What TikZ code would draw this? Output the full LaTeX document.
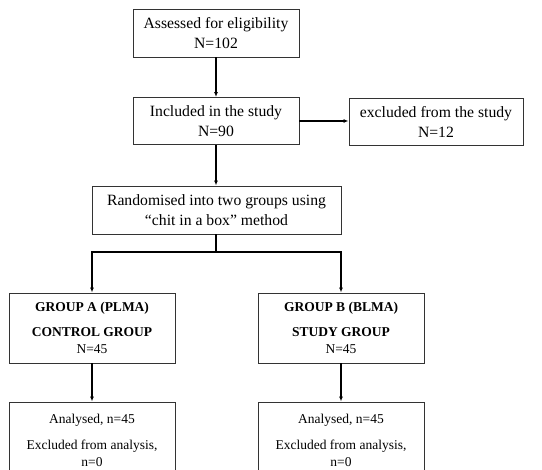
\documentclass[tikz,border=0pt]{standalone}
\usepackage{fontspec}
\setmainfont{Liberation Serif}
\usetikzlibrary{arrows.meta}
\usetikzlibrary{positioning}

\tikzset{
  box/.style={draw=black!80, line width=0.9pt, align=center, inner sep=0pt},
  bigbox/.style={box, font=\fontsize{15.7}{20}\selectfont},
  smallbox/.style={box, font=\fontsize{13.5}{17}\selectfont},
  arr/.style={line width=1.15pt, -{Latex[length=5pt,width=4pt]}}
}

\begin{document}
\begin{tikzpicture}[x=1pt,y=1pt]
  \useasboundingbox (0,0) rectangle (542,-470);

  % top part
  \node[bigbox, minimum width=166, minimum height=48] (assess) at (216,-33)
    {Assessed for eligibility\\N=102};
  \node[bigbox, minimum width=166, minimum height=47] (incl) at (216,-121)
    {Included in the study\\N=90};
  \node[bigbox, minimum width=174, minimum height=47] (excl) at (436,-121.5)
    {excluded from the study\\N=12};
  \node[bigbox, minimum width=249, minimum height=48] (rand) at (216.5,-210)
    {Randomised into two groups using\\``chit in a box'' method};

  % the two groups
  \node[smallbox, minimum width=166, minimum height=70] (grpA) at (92,-328)
    {\textbf{GROUP A (PLMA)}\\[8pt]\textbf{CONTROL GROUP}\\N=45};
  \node[smallbox, minimum width=166, minimum height=70] (grpB) at (341,-328)
    {\textbf{GROUP B (BLMA)}\\[8pt]\textbf{STUDY GROUP}\\N=45};
  \node[smallbox, minimum width=166, minimum height=76] (anaA) at (92,-440)
    {Analysed, n=45\\[9pt]Excluded from analysis,\\n=0};
  \node[smallbox, minimum width=166, minimum height=76] (anaB) at (341,-440)
    {Analysed, n=45\\[9pt]Excluded from analysis,\\n=0};

  \draw[arr] (assess.south) -- (incl.north);
  \draw[arr] (incl.east) -- (incl.east -| excl.west);
  \draw[arr] (incl.south) -- (rand.north -| incl.south);
  \coordinate (split) at (216,-252);
  \draw[line width=1.15pt] (rand.south -| split) -- (split);
  \draw[arr] (split) -| (grpA.north);
  \draw[arr] (split) -| (grpB.north);
  \draw[arr] (grpA.south) -- (anaA.north);
  \draw[arr] (grpB.south) -- (anaB.north);
\end{tikzpicture}
\end{document}
